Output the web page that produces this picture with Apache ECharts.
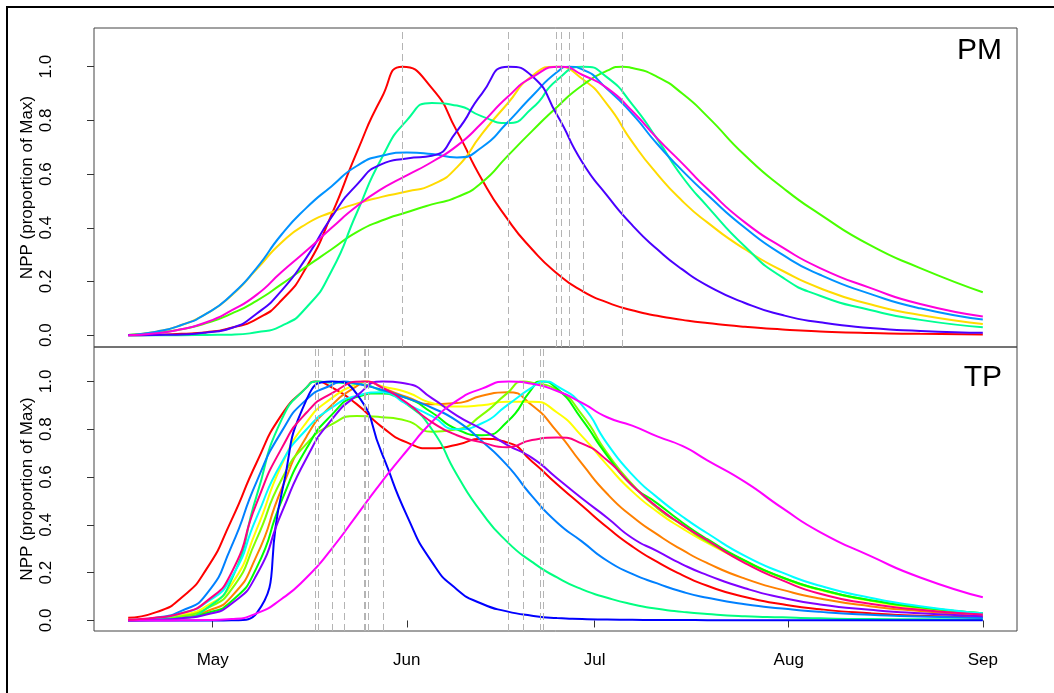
<!DOCTYPE html>
<html><head><meta charset="utf-8">
<script src="https://cdn.jsdelivr.net/npm/echarts@6/dist/echarts.min.js"></script>
<style>html,body{margin:0;padding:0;background:#fff}#c{width:1054px;height:693px}</style>
</head><body><div id="c"></div>
<script>
// ---- data (day of year) ----
const days = [107.5,112,116,120,124,128,132,136,140,144,148,152,156,160,164,168,172,176,180,184,188,192,196,200,206,212,218,226,234,244];
const monthDays = [121,152,182,213,244];
const monthLabels = ['May','Jun','Jul','Aug','Sep'];
const yTicks = [0,0.2,0.4,0.6,0.8,1.0];
const yTitle = 'NPP (proportion of Max)';
const panelNames = ['PM','TP'];

// PM panel (7 curves)
const pmColors = ['#FF0000','#FFDB00','#49FF00','#00FF92','#0092FF','#4900FF','#FF00DB'];
const pmPeaks  = [151.31,175.88,186.41,180.19,177.96,168.22,176.68];
const pmRed     = [0,0.002,0.005,0.011,0.028,0.06,0.13,0.255,0.45,0.68,0.885,0.995,0.92,0.76,0.58,0.435,0.32,0.23,0.165,0.122,0.093,0.072,0.057,0.045,0.031,0.021,0.014,0.008,0.005,0.003];
const pmYellow  = [0.001,0.013,0.038,0.08,0.148,0.245,0.345,0.415,0.458,0.49,0.515,0.535,0.56,0.625,0.75,0.86,0.965,1.0,0.955,0.86,0.72,0.6,0.5,0.42,0.32,0.24,0.175,0.115,0.075,0.042];
const pmGreen   = [0.001,0.009,0.022,0.045,0.08,0.128,0.19,0.256,0.32,0.384,0.427,0.458,0.487,0.514,0.569,0.665,0.76,0.85,0.93,0.985,0.995,0.962,0.9,0.815,0.67,0.55,0.45,0.335,0.25,0.16];
const pmSpring  = [0,0,0,0.001,0.002,0.011,0.035,0.104,0.24,0.455,0.66,0.80,0.865,0.855,0.815,0.79,0.845,0.95,1.0,0.96,0.86,0.73,0.59,0.48,0.33,0.215,0.147,0.094,0.057,0.03];
const pmAzure   = [0.001,0.013,0.038,0.08,0.15,0.25,0.375,0.475,0.555,0.63,0.668,0.68,0.675,0.662,0.70,0.79,0.89,0.98,0.99,0.917,0.824,0.712,0.613,0.523,0.40,0.30,0.225,0.154,0.10,0.058];
const pmViolet  = [0,0.001,0.003,0.01,0.027,0.08,0.166,0.29,0.44,0.56,0.637,0.658,0.668,0.76,0.90,1.0,0.965,0.82,0.645,0.52,0.41,0.32,0.245,0.185,0.12,0.075,0.048,0.027,0.016,0.009];
const pmMagenta = [0,0.007,0.022,0.048,0.092,0.15,0.235,0.315,0.40,0.48,0.545,0.595,0.645,0.705,0.79,0.885,0.96,0.995,0.97,0.92,0.835,0.733,0.64,0.545,0.42,0.327,0.25,0.176,0.116,0.07];
const pmValues = [pmRed,pmYellow,pmGreen,pmSpring,pmAzure,pmViolet,pmMagenta];

// TP panel (12 curves)
const tpColors = ['#FF0000','#FF8000','#FFFF00','#80FF00','#00FF00','#00FF80','#00FFFF','#0080FF','#0000FF','#8000FF','#FF00FF','#FF0080'];
const tpPeaks  = [137.38,145.78,145.41,170.62,173.28,137.80,173.85,141.95,140.03,148.17,168.27,145.14];
const tpRed        = [0.011,0.035,0.095,0.215,0.42,0.66,0.86,0.975,0.975,0.905,0.81,0.745,0.72,0.735,0.76,0.745,0.665,0.57,0.48,0.39,0.31,0.245,0.19,0.145,0.098,0.068,0.047,0.03,0.02,0.013];
const tpOrange     = [0.001,0.004,0.013,0.038,0.10,0.27,0.55,0.77,0.90,0.98,0.975,0.935,0.905,0.91,0.94,0.955,0.90,0.79,0.655,0.53,0.435,0.36,0.295,0.24,0.175,0.128,0.092,0.06,0.04,0.022];
const tpYellow     = [0.002,0.007,0.022,0.06,0.15,0.38,0.65,0.83,0.93,0.99,0.98,0.955,0.91,0.895,0.90,0.915,0.915,0.87,0.77,0.65,0.54,0.455,0.385,0.325,0.245,0.178,0.127,0.082,0.05,0.025];
const tpChartreuse = [0.002,0.006,0.018,0.05,0.13,0.34,0.59,0.74,0.82,0.855,0.85,0.835,0.79,0.80,0.86,0.95,0.995,0.965,0.86,0.70,0.57,0.47,0.40,0.33,0.25,0.18,0.13,0.085,0.055,0.03];
const tpGreen      = [0.001,0.003,0.01,0.03,0.08,0.22,0.50,0.72,0.86,0.935,0.95,0.93,0.87,0.80,0.775,0.83,0.97,0.97,0.84,0.69,0.565,0.49,0.41,0.34,0.25,0.18,0.13,0.085,0.055,0.03];
const tpSpring     = [0,0.002,0.01,0.05,0.17,0.52,0.84,0.975,0.995,0.99,0.96,0.905,0.80,0.61,0.45,0.33,0.245,0.18,0.13,0.095,0.068,0.049,0.036,0.027,0.018,0.013,0.009,0.006,0.005,0.004];
const tpCyan       = [0.002,0.01,0.03,0.075,0.18,0.43,0.66,0.80,0.89,0.94,0.955,0.905,0.855,0.80,0.825,0.90,0.975,0.98,0.90,0.74,0.61,0.515,0.435,0.365,0.27,0.20,0.145,0.095,0.06,0.03];
const tpAzure      = [0.001,0.012,0.04,0.11,0.31,0.58,0.79,0.925,0.985,0.99,0.965,0.93,0.89,0.835,0.75,0.65,0.52,0.41,0.33,0.25,0.195,0.155,0.12,0.095,0.068,0.05,0.036,0.024,0.017,0.01];
const tpBlue       = [0,0,0,0,0.001,0.03,0.53,0.925,0.999,0.948,0.70,0.44,0.245,0.13,0.07,0.038,0.02,0.01,0.006,0.004,0.003,0.002,0.002,0.001,0.001,0.001,0.001,0.001,0.001,0.001];
const tpViolet     = [0.001,0.003,0.009,0.025,0.07,0.19,0.45,0.68,0.84,0.94,0.995,0.99,0.93,0.857,0.80,0.735,0.68,0.595,0.51,0.43,0.345,0.29,0.235,0.19,0.135,0.095,0.067,0.045,0.03,0.018];
const tpMagenta    = [0,0,0.001,0.002,0.006,0.03,0.09,0.18,0.30,0.44,0.58,0.71,0.83,0.92,0.97,0.998,0.99,0.96,0.91,0.85,0.815,0.77,0.73,0.67,0.58,0.47,0.37,0.27,0.18,0.097];
const tpRose       = [0.003,0.012,0.03,0.08,0.20,0.49,0.72,0.87,0.95,0.985,0.975,0.91,0.83,0.775,0.745,0.725,0.755,0.765,0.74,0.67,0.565,0.475,0.40,0.335,0.24,0.168,0.112,0.07,0.045,0.025];
const tpValues = [tpRed,tpOrange,tpYellow,tpChartreuse,tpGreen,tpSpring,tpCyan,tpAzure,tpBlue,tpViolet,tpMagenta,tpRose];

// ---- build ----
function buildData(vals, peak){
  const pts = [];
  for (let i = 0; i < days.length; i++) {
    if (Math.abs(days[i] - peak) < 1.2) continue;
    pts.push([days[i], vals[i]]);
  }
  pts.push([peak, 1]);
  pts.sort((a,b) => a[0]-b[0]);
  return pts;
}
const dStart = days[0], dEnd = days[days.length-1];
const xPad = 0.04*(dEnd-dStart);
const xMin = dStart - xPad, xMax = dEnd + xPad;
const yMin = -0.044, yMax = 1.144;
const FONT = 'Liberation Sans, Arial, sans-serif';

function makeSeries(valsList, colors, peaks, idx){
  return valsList.map((v,i) => ({
    type:'line', xAxisIndex:idx, yAxisIndex:idx,
    data: buildData(v, peaks[i]),
    showSymbol:false, symbol:'none', smooth:0.6, animation:false, silent:true,
    lineStyle:{color:colors[i], width:2}, itemStyle:{color:colors[i]},
    markLine:{silent:true, symbol:['none','none'], label:{show:false}, animation:false,
      lineStyle:{type:[7,4], color:'#b4b4b4', width:1}, emphasis:{disabled:true},
      data:[{xAxis:peaks[i]}]}
  }));
}
function yAxisCfg(idx){
  return {gridIndex:idx, type:'value', min:yMin, max:yMax,
    axisLine:{show:false}, splitLine:{show:false},
    axisTick:{show:true, length:7, customValues:yTicks, lineStyle:{color:'#333'}},
    axisLabel:{show:true, customValues:yTicks, rotate:90, margin:39, fontSize:17, color:'#000', fontFamily:FONT,
      formatter: v => v.toFixed(1)}};
}
const chart = echarts.init(document.getElementById('c'), null, {renderer:'canvas'});
chart.setOption({
  animation:false,
  backgroundColor:'#fff',
  grid:[
    {left:94, top:28, width:923, height:319, show:true, borderColor:'#444', borderWidth:1, backgroundColor:'transparent'},
    {left:94, top:347, width:923, height:284, show:true, borderColor:'#444', borderWidth:1, backgroundColor:'transparent'}
  ],
  xAxis:[
    {gridIndex:0, type:'value', min:xMin, max:xMax, axisLine:{show:false}, axisTick:{show:false}, axisLabel:{show:false}, splitLine:{show:false}},
    {gridIndex:1, type:'value', min:xMin, max:xMax, axisLine:{show:false}, splitLine:{show:false},
      axisTick:{show:true, length:7, customValues:monthDays, lineStyle:{color:'#333'}},
      axisLabel:{show:true, customValues:monthDays, margin:21, fontSize:17, color:'#000', fontFamily:FONT,
        formatter: v => monthLabels[monthDays.indexOf(v)]}}
  ],
  yAxis:[yAxisCfg(0), yAxisCfg(1)],
  series:[...makeSeries(pmValues, pmColors, pmPeaks, 0), ...makeSeries(tpValues, tpColors, tpPeaks, 1)],
  graphic:[
    {type:'rect', shape:{x:7, y:7, width:1100, height:1000}, style:{fill:'none', stroke:'#000', lineWidth:2}, silent:true},
    {type:'text', x:1002, y:51, style:{text:panelNames[0], font:'30px '+FONT, fill:'#000', textAlign:'right', textVerticalAlign:'middle'}},
    {type:'text', x:1002, y:378, style:{text:panelNames[1], font:'30px '+FONT, fill:'#000', textAlign:'right', textVerticalAlign:'middle'}},
    {type:'text', x:27, y:187.5, rotation:Math.PI/2, style:{text:yTitle, font:'17px '+FONT, fill:'#000', textAlign:'center', textVerticalAlign:'middle'}},
    {type:'text', x:27, y:489, rotation:Math.PI/2, style:{text:yTitle, font:'17px '+FONT, fill:'#000', textAlign:'center', textVerticalAlign:'middle'}}
  ]
});
</script></body></html>
